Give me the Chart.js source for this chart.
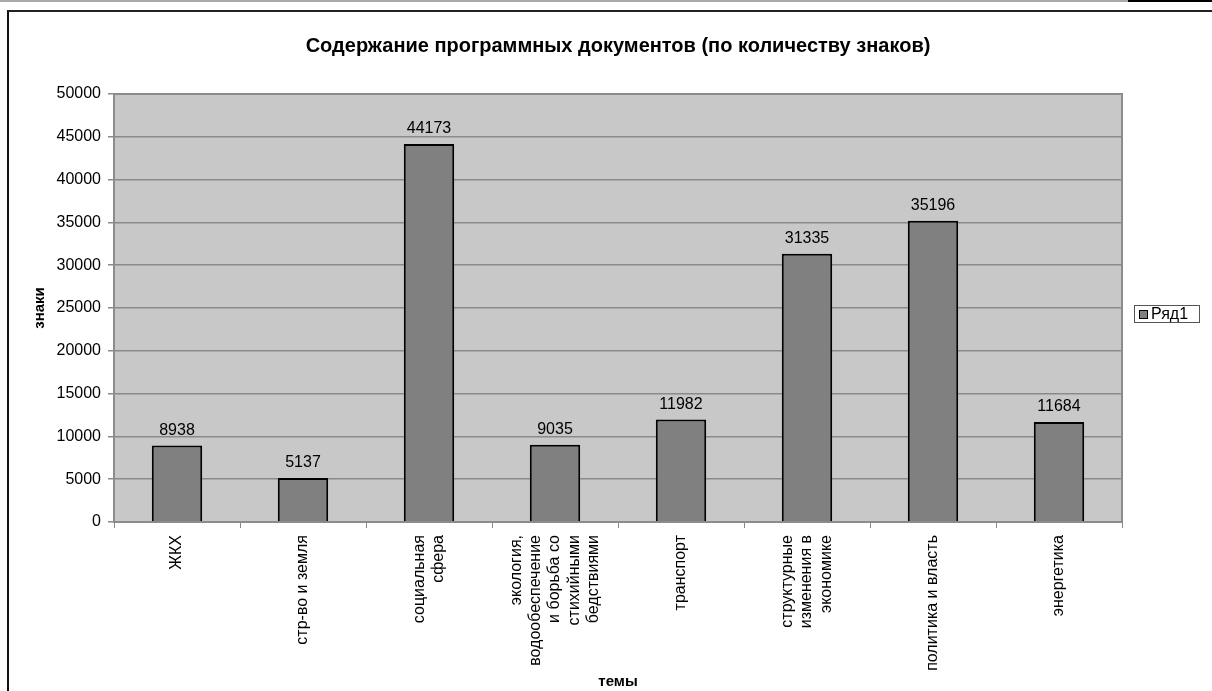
<!DOCTYPE html>
<html>
<head>
<meta charset="utf-8">
<title>Содержание программных документов</title>
<script src="https://cdn.jsdelivr.net/npm/chart.js@4/dist/chart.umd.min.js"></script>
<style>
    body { margin: 0; background: #fff; overflow: hidden; }
    #wrap { position: relative; width: 1212px; height: 691px; }
    #chart { position: absolute; left: 0; top: 0; }
    .topline { position: absolute; top: 0; height: 2px; }
    #frame { position: absolute; left: 7px; top: 10px; width: 1220px; height: 700px;
             border-left: 2px solid #111; border-top: 2px solid #222; pointer-events: none; }
</style>
</head>
<body>
<div id="wrap">
    <div class="topline" style="left:0;width:1128px;background:#aaa;"></div>
    <div class="topline" style="left:1128px;width:84px;background:#000;"></div>
    <canvas id="chart" width="1212" height="691"></canvas>
    <div id="frame"></div>
</div>
<script>
// Chart data
const topics = [
    'ЖКХ',
    'стр-во и земля',
    ['социальная', 'сфера'],
    ['экология,', 'водообеспечение', 'и борьба со', 'стихийными', 'бедствиями'],
    'транспорт',
    ['структурные', 'изменения в', 'экономике'],
    'политика и власть',
    'энергетика'
];
const charCounts = [8938, 5137, 44173, 9035, 11982, 31335, 35196, 11684];
const seriesName = 'Ряд1';

const FONT = "'Liberation Sans', Arial, sans-serif";
const X_TICK_SIZE = 16;
const X_TICK_LH = 1.2;

// Gray plot background with a border round it
const plotBackground = {
    id: 'plotBackground',
    beforeDraw(chart) {
        const { ctx, chartArea: a } = chart;
        ctx.save();
        ctx.fillStyle = '#c8c8c8';
        ctx.fillRect(a.left, a.top, a.right - a.left, a.bottom - a.top);
        ctx.restore();

        // center multi-line category labels on their tick
        chart.scales.x.getLabelItems().forEach(item => {
            if (item._centered) return;
            const lines = Array.isArray(item.label) ? item.label.length : 1;
            item.textOffset -= (lines - 1) * X_TICK_SIZE * X_TICK_LH / 2;
            item._centered = true;
        });
    },
    afterDraw(chart) {
        const { ctx, chartArea: a } = chart;
        ctx.save();
        ctx.strokeStyle = '#8c8c8c';
        ctx.lineWidth = 2;
        ctx.strokeRect(a.left, a.top, a.right - a.left, a.bottom - a.top);
        ctx.restore();
    }
};

// Value labels above each bar
const barValues = {
    id: 'barValues',
    afterDatasetsDraw(chart) {
        const { ctx } = chart;
        const meta = chart.getDatasetMeta(0);
        ctx.save();
        ctx.font = '16px ' + FONT;
        ctx.fillStyle = '#000';
        ctx.textAlign = 'center';
        ctx.textBaseline = 'bottom';
        meta.data.forEach((bar, i) => {
            ctx.fillText(chart.data.datasets[0].data[i], bar.x, bar.y - 7);
        });
        ctx.restore();
    }
};

// Boxed legend in the right margin
const boxLegend = {
    id: 'boxLegend',
    afterDraw(chart) {
        const { ctx } = chart;
        const ds = chart.data.datasets[0];
        const x = 1134, y = 305, w = 65, h = 17;
        ctx.save();
        ctx.fillStyle = '#fff';
        ctx.fillRect(x, y, w, h);
        ctx.strokeStyle = '#555';
        ctx.lineWidth = 1;
        ctx.strokeRect(x + 0.5, y + 0.5, w, h);
        ctx.fillStyle = ds.backgroundColor;
        ctx.fillRect(x + 5, y + 5, 8, 8);
        ctx.strokeStyle = '#000';
        ctx.strokeRect(x + 5.5, y + 5.5, 8, 8);
        ctx.fillStyle = '#000';
        ctx.font = '16px ' + FONT;
        ctx.textBaseline = 'middle';
        ctx.fillText(ds.label, x + 17, y + h / 2 + 1);
        ctx.restore();
    }
};

new Chart(document.getElementById('chart'), {
    type: 'bar',
    data: {
        labels: topics,
        datasets: [{
            label: seriesName,
            data: charCounts,
            backgroundColor: '#808080',
            borderColor: '#000',
            borderWidth: 2,
            barPercentage: 0.4,
            categoryPercentage: 1
        }]
    },
    options: {
        responsive: false,
        devicePixelRatio: 1,
        animation: false,
        layout: { padding: { left: 8, right: 90, top: 0, bottom: 0 } },
        plugins: {
            legend: { display: false },
            tooltip: { enabled: false },
            title: {
                display: true,
                fullSize: false,
                text: 'Содержание программных документов (по количеству знаков)',
                color: '#000',
                font: { family: FONT, size: 20, weight: 'bold' },
                padding: { top: 34, bottom: 36 }
            }
        },
        scales: {
            x: {
                offset: true,
                grid: { offset: true, drawOnChartArea: false, drawTicks: true, tickLength: 6, color: '#888' },
                border: { color: '#888', width: 2 },
                ticks: {
                    autoSkip: false,
                    minRotation: 90,
                    maxRotation: 90,
                    padding: 7,
                    color: '#000',
                    font: { family: FONT, size: X_TICK_SIZE, lineHeight: X_TICK_LH }
                },
                title: {
                    display: true,
                    text: 'темы',
                    color: '#000',
                    font: { family: FONT, size: 15, weight: 'bold' },
                    padding: { top: 0, bottom: 0 }
                },
                afterFit(scale) { scale.height = 169; }
            },
            y: {
                min: 0,
                max: 50000,
                ticks: {
                    stepSize: 5000,
                    padding: 7,
                    color: '#000',
                    font: { family: FONT, size: 16 },
                    callback: value => String(value)
                },
                grid: { color: '#8a8a8a', lineWidth: 1.5, tickLength: 6, drawTicks: true },
                border: { color: '#888', width: 2 },
                title: {
                    display: true,
                    text: 'знаки',
                    color: '#000',
                    font: { family: FONT, size: 15, weight: 'bold' },
                    padding: { top: 23, bottom: 0 }
                },
                afterFit(scale) { scale.width = 106; }
            }
        }
    },
    plugins: [plotBackground, barValues, boxLegend]
});
</script>
</body>
</html>
